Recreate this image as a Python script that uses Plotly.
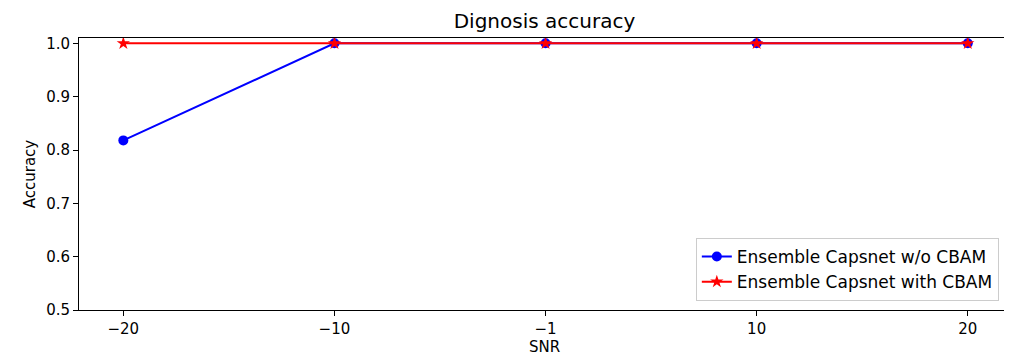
import plotly.graph_objects as go

snr_labels = ["\u221220", "\u221210", "\u22121", "10", "20"]
acc_without_cbam = [0.818, 1.0, 1.0, 1.0, 1.0]
acc_with_cbam = [1.0, 1.0, 1.0, 1.0, 1.0]
y_ticks = [0.5, 0.6, 0.7, 0.8, 0.9, 1.0]

fig = go.Figure()
fig.add_trace(go.Scatter(
    x=snr_labels, y=acc_without_cbam, mode="lines+markers",
    name="Ensemble Capsnet w/o CBAM",
    line=dict(color="#0000ff", width=2),
    marker=dict(symbol="circle", size=10, color="#0000ff"),
))
fig.add_trace(go.Scatter(
    x=snr_labels, y=acc_with_cbam, mode="lines+markers",
    name="Ensemble Capsnet with CBAM",
    line=dict(color="#ff0000", width=2),
    marker=dict(symbol="star", size=10, color="#ff0000"),
))

# page has an 8px body margin; figure is placed at (8, 8)
OFF = 8
W, H = 1012 - OFF, 360 - OFF
L, R, T, B = 79 - OFF, 1010 - OFF, 38 - OFF, 310 - OFF
fig.update_layout(
    width=W, height=H,
    margin=dict(l=L, r=W - R, t=T, b=H - B, autoexpand=False),
    paper_bgcolor="white", plot_bgcolor="white",
    font=dict(family="DejaVu Sans", size=15, color="black"),
    title=dict(text="Dignosis accuracy", x=(L + R) / 2 / W, xanchor="center",
               y=1 - (21 - OFF) / H, yanchor="middle", font=dict(size=20, color="black")),
    legend=dict(x=0.988, y=0.033, xanchor="right", yanchor="bottom",
                bordercolor="#cccccc", borderwidth=1, bgcolor="rgba(255,255,255,0.8)",
                font=dict(size=17, color="black"), tracegroupgap=0),
    showlegend=True,
)
fig.update_xaxes(
    type="category", range=[-0.21, 4.2], automargin=False,
    title=dict(text="SNR", standoff=2, font=dict(size=15)),
    showgrid=False, zeroline=False,
    showline=True, linecolor="black", linewidth=1, mirror=True,
    ticks="outside", ticklen=5, tickcolor="black", tickfont=dict(size=15),
)
fig.update_yaxes(
    range=[0.5, 1.01], tickvals=y_ticks, ticktext=[f"{v:.1f}" for v in y_ticks],
    automargin=False,
    title=dict(text="Accuracy", standoff=6, font=dict(size=15)),
    showgrid=False, zeroline=False,
    showline=True, linecolor="black", linewidth=1, mirror=True,
    ticks="outside", ticklen=5, tickcolor="black", tickfont=dict(size=15),
)

fig.write_html("out.html")
